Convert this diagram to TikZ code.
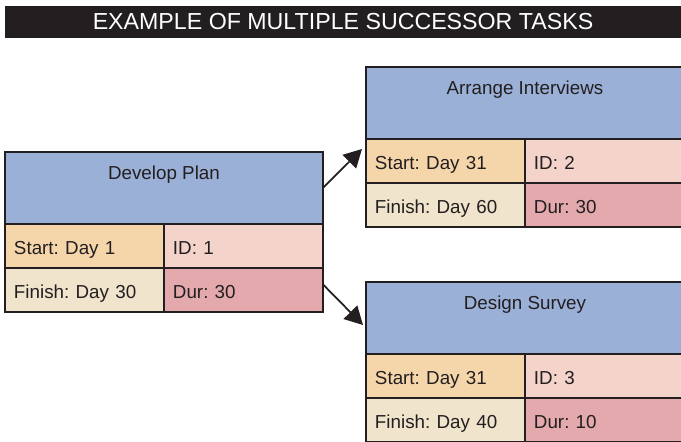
\documentclass[tikz,border=0pt]{standalone}
\usepackage{fontspec}
\setmainfont{Liberation Sans}
\frenchspacing
\usepackage{xcolor}
\definecolor{pmdark}{RGB}{35,31,32}
\definecolor{pmblue}{RGB}{155,176,215}
\definecolor{pmstart}{RGB}{245,214,170}
\definecolor{pmid}{RGB}{243,211,202}
\definecolor{pmfinish}{RGB}{240,228,204}
\definecolor{pmdur}{RGB}{227,169,172}
\usetikzlibrary{arrows.meta,positioning,calc}
\tikzset{
  titlebar/.style={fill=pmdark, text=white, font=\fontsize{13.2}{15}\selectfont,
                   minimum width=13.52cm, minimum height=0.64cm, inner sep=0pt},
  taskhead/.style={draw=pmdark, line width=1.1pt, fill=pmblue, text=pmdark,
                   font=\fontsize{10.7}{12}\selectfont, anchor=north west,
                   minimum width=6.36cm, inner ysep=0pt, outer sep=0pt,
                   text height=15.9pt, text depth=25.1pt},
  taskcell/.style={draw=pmdark, line width=1.1pt, fill=#1, text=pmdark,
                   font=\fontsize{10.7}{12}\selectfont, anchor=north west,
                   inner xsep=0.18cm, inner ysep=0pt, outer sep=0pt,
                   text width=2.82cm, align=left,
                   text height=17.6pt, text depth=7.4pt},
  succ/.style={-{Triangle[length=0.36cm, width=0.38cm]}, line width=1pt, pmdark},
}
\begin{document}
\begin{tikzpicture}[x=0.02cm, y=-0.02cm]
\useasboundingbox (0,0) rectangle (681,441);

% Title
\node[titlebar] (title) at (343,22) {EXAMPLE OF MULTIPLE SUCCESSOR TASKS};

% Develop Plan
\node[taskhead] (dp) at (5,152) {Develop Plan};
\node[taskcell=pmstart] (dp-start) at (dp.south west) {Start: Day 1};
\node[taskcell=pmid] (dp-id) at (dp-start.north east) {ID: 1};
\node[taskcell=pmfinish] (dp-fin) at (dp-start.south west) {Finish: Day 30};
\node[taskcell=pmdur] (dp-dur) at (dp-fin.north east) {Dur: 30};

% Arrange Interviews
\node[taskhead] (ai) at (366,67) {Arrange Interviews};
\node[taskcell=pmstart] (ai-start) at (ai.south west) {Start: Day 31};
\node[taskcell=pmid] (ai-id) at (ai-start.north east) {ID: 2};
\node[taskcell=pmfinish] (ai-fin) at (ai-start.south west) {Finish: Day 60};
\node[taskcell=pmdur] (ai-dur) at (ai-fin.north east) {Dur: 30};

% Design Survey
\node[taskhead] (ds) at (366,282) {Design Survey};
\node[taskcell=pmstart] (ds-start) at (ds.south west) {Start: Day 31};
\node[taskcell=pmid] (ds-id) at (ds-start.north east) {ID: 3};
\node[taskcell=pmfinish] (ds-fin) at (ds-start.south west) {Finish: Day 40};
\node[taskcell=pmdur] (ds-dur) at (ds-fin.north east) {Dur: 10};

% Successor links
\coordinate (ai-in) at (362,149);
\coordinate (ds-in) at (363,325);
\draw[succ] (dp.east) -- (ai-in);
\draw[succ] (dp-dur.4) -- (ds-in);

\end{tikzpicture}
\end{document}
